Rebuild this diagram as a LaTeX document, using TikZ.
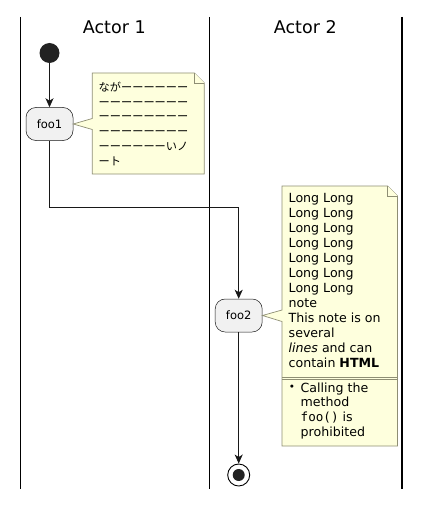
\documentclass[tikz,border=0pt]{standalone}
\usepackage{fontspec}
\setmainfont{DejaVu Sans}
\setmonofont{DejaVu Sans Mono}
\newfontfamily\cjk{Noto Sans CJK JP}
\usetikzlibrary{arrows.meta}
\definecolor{notefill}{HTML}{FEFFDD}
\definecolor{noteline}{HTML}{8E8E74}
\definecolor{actfill}{HTML}{F1F1F1}
\definecolor{actline}{HTML}{181818}
\definecolor{dot}{HTML}{222222}
\tikzset{
  lane/.style={line width=1.4pt, black},
  actbox/.style={draw=actline, fill=actfill, line width=0.5pt, rounded corners=10pt,
    minimum width=47pt, minimum height=33pt, inner sep=0pt, font=\fontsize{11.5}{13}\selectfont},
  note/.style={draw=noteline, fill=notefill, line width=0.7pt, line join=miter},
  conn/.style={draw=actline, line width=0.9pt, -{Stealth[length=9pt,width=8pt,inset=2.5pt]}},
  title/.style={anchor=base, inner sep=0pt, font=\fontsize{17.5}{20}\selectfont},
  ntext/.style={anchor=base west, inner sep=0pt, align=left},
}
\begin{document}
\begin{tikzpicture}[x=1pt,y=-1pt]
\useasboundingbox (0,0) rectangle (430,508);
% swimlanes
\draw[lane] (20.5,17) -- (20.5,489);
\draw[lane] (209.3,17) -- (209.3,489);
\draw[lane] (402,17) -- (402,489);
\node[title] (t1) at (114.3,33.6) {Actor 1};
\node[title] (t2) at (305.3,33.6) {Actor 2};
% start / end
\node[circle, fill=dot, minimum size=20pt, inner sep=0pt] (start) at (49.5,53) {};
\node[circle, draw=black, line width=0.9pt, minimum size=22pt, inner sep=0pt] (stop) at (238.7,475) {};
\node[circle, fill=dot, minimum size=12pt, inner sep=0pt] (stopin) at (238.7,475) {};
% activities
\node[actbox] (foo1) at (49.5,124) {foo1};
\node[actbox] (foo2) at (238.7,315.5) {foo2};
% note 1
\draw[note] (92.3,73) -- (194.3,73) -- (204.3,83) -- (204.3,174) -- (92.3,174)
  -- (92.3,129.5) -- (foo1.east) -- (92.3,118.5) -- cycle;
\draw[note] (194.3,73) -- (194.3,83) -- (204.3,83);
\node[ntext] (n1) at (98.5,91.3) {\cjk\fontsize{11.2}{14.8}\selectfont
  \vtop{\baselineskip=14.8pt
  \hbox{ながーーーーーー}
  \hbox{ーーーーーーーー}
  \hbox{ーーーーーーーー}
  \hbox{ーーーーーーーー}
  \hbox{ーーーーーーいノ}
  \hbox{ート}}};
% note 2
\draw[note] (282,186) -- (387.5,186) -- (397.5,196) -- (397.5,446) -- (282,446)
  -- (282,321.5) -- (foo2.east) -- (282,310) -- cycle;
\draw[note] (387.5,186) -- (387.5,196) -- (397.5,196);
\draw[note] (282,377) -- (397.5,377);
\draw[note] (282,379.6) -- (397.5,379.6);
\node[ntext] (n2) at (288.5,202) {\fontsize{12.6}{15}\selectfont
  \vtop{\baselineskip=15pt
  \hbox{Long Long}
  \hbox{Long Long}
  \hbox{Long Long}
  \hbox{Long Long}
  \hbox{Long Long}
  \hbox{Long Long}
  \hbox{Long Long}
  \hbox{note}
  \hbox{This note is on}
  \hbox{several}
  \hbox{\textit{lines} and can}
  \hbox{contain \textbf{HTML}}}};
\node[ntext] (n3) at (288.2,392) {\fontsize{12.6}{14.7}\selectfont
  \vtop{\baselineskip=14.7pt
  \hbox{\makebox[12.3pt][l]{\hspace{0.5pt}\raisebox{1.6pt}{\fontsize{10.5}{11}\selectfont •}}Calling the}
  \hbox{\hspace{12.3pt}method}
  \hbox{\hspace{12.3pt}\texttt{foo()} is}
  \hbox{\hspace{12.3pt}prohibited}}};
% connectors
\coordinate (bend) at (238.7,207.7);
\draw[conn] (start) -- (foo1);
\draw[conn] (foo1.south) |- (bend) -- (foo2.north);
\draw[conn] (foo2) -- (stop);
\end{tikzpicture}
\end{document}
